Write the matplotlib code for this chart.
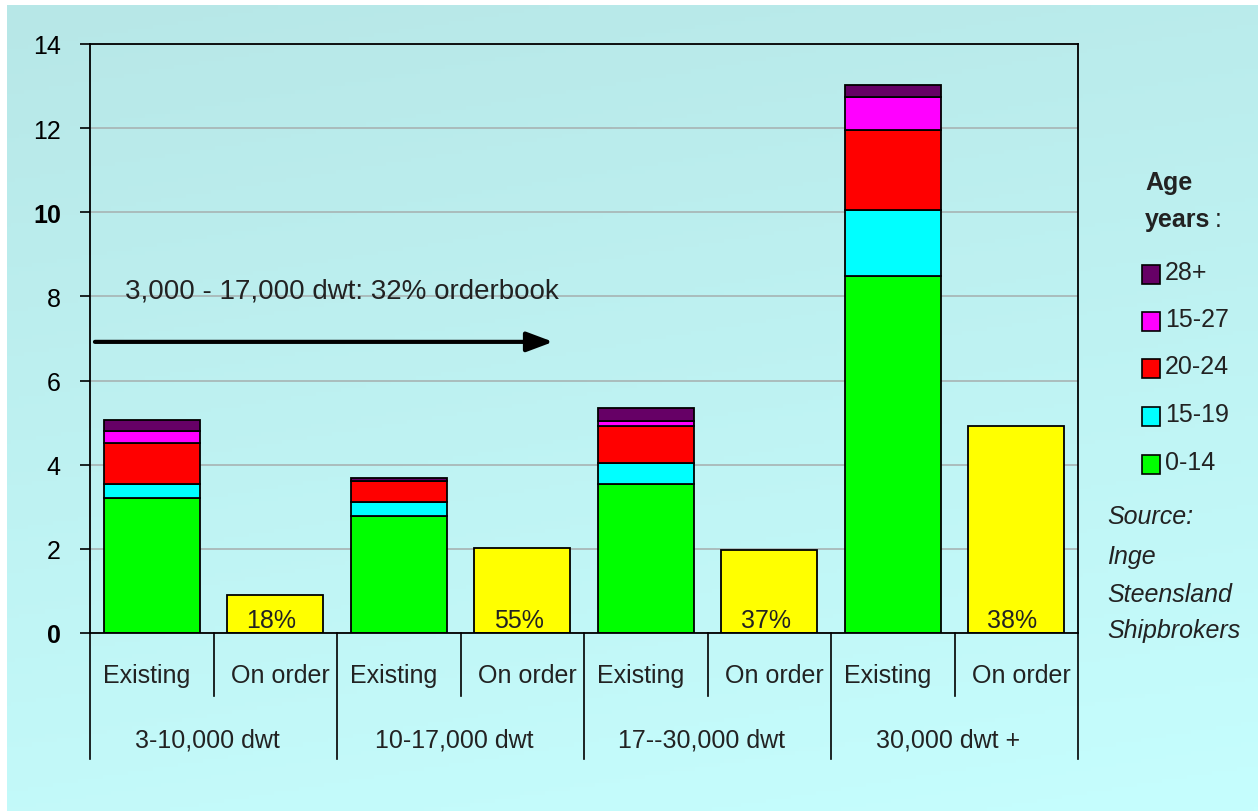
import numpy as np
import matplotlib
matplotlib.use("Agg")
import matplotlib.pyplot as plt
from matplotlib.patches import Rectangle
from matplotlib.transforms import blended_transform_factory

plt.rcParams['font.family'] = ['Liberation Sans', 'DejaVu Sans']

# fleet in million dwt, per size group: existing (by age) and on order
groups = ["3-10,000 dwt", "10-17,000 dwt", "17--30,000 dwt", "30,000 dwt +"]
sub_labels = ["Existing", "On order"]
age_labels = ["0-14", "15-19", "20-24", "15-27", "28+"]
age_colors = ["#00ff00", "#00ffff", "#ff0000", "#ff00ff", "#660066"]

age_0_14 = [3.20, 2.79, 3.53, 8.48]
age_15_19 = [0.33, 0.33, 0.51, 1.57]
age_20_24 = [0.98, 0.50, 0.87, 1.90]
age_25_27 = [0.28, 0.00, 0.14, 0.78]
age_28_plus = [0.28, 0.06, 0.30, 0.30]

on_order = [0.90, 2.02, 1.97, 4.92]
order_pct = ["18%", "55%", "37%", "38%"]

FS = 18

W, H = 1258, 812
fig = plt.figure(figsize=(W / 100, H / 100), dpi=100)
fig.patch.set_facecolor("white")

# background gradient
bg = fig.add_axes([7 / W, 0, 1 - 7 / W, 1 - 6 / H])
yy, xx = np.mgrid[0:1:200j, 0:1:300j]
t = np.clip(0.8 * yy + 0.2 * xx, 0, 1)
c_top = np.array([183, 231, 231]) / 255
c_bot = np.array([198, 254, 254]) / 255
img = c_top[None, None, :] * (1 - t[..., None]) + c_bot[None, None, :] * t[..., None]
bg.imshow(img, aspect="auto", extent=[0, 1, 0, 1], origin="upper")
bg.set_axis_off()

ax = fig.add_axes([90 / W, 178 / H, 988 / W, 589 / H])
ax.set_facecolor("none")

x_exist = np.arange(len(groups)) * 2
x_order = x_exist + 1
bw = 0.78

stack = [age_0_14, age_15_19, age_20_24, age_25_27, age_28_plus]
bottom = np.zeros(len(groups))
for vals, col, lab in zip(stack, age_colors, age_labels):
    ax.bar(x_exist, vals, bw, bottom=bottom, color=col, edgecolor="black",
           linewidth=1.3, label=lab, zorder=3)
    bottom += np.array(vals)

ax.bar(x_order, on_order, bw, color="#ffff00", edgecolor="black",
       linewidth=1.3, zorder=3)
for xo, p in zip(x_order, order_pct):
    ax.text(xo - 0.03, 0.32, p, ha="center", va="center", fontsize=FS,
            color="#222222", zorder=4)

ax.set_xlim(-0.5, 7.5)
ax.set_ylim(0, 14)
ax.set_yticks(np.arange(0, 15, 2))
ax.set_yticklabels([str(v) for v in range(0, 15, 2)], fontsize=FS)
for lbl in ax.get_yticklabels():
    if lbl.get_text() in ("0", "10"):
        lbl.set_fontweight("bold")
ax.tick_params(axis="y", direction="out", length=7, width=1.2, pad=14)
ax.set_xticks([])
ax.grid(axis="y", color="#a9b8b8", linewidth=1.3, zorder=0)
for s in ax.spines.values():
    s.set_linewidth(1.3)
    s.set_zorder(5)

# two-level category axis
tr = blended_transform_factory(ax.transData, ax.transAxes)
for xb in [0.5, 2.5, 4.5, 6.5]:
    ax.plot([xb, xb], [0, -0.107], color="black", lw=1.2, transform=tr, clip_on=False)
for xb in [-0.5, 1.5, 3.5, 5.5, 7.5]:
    ax.plot([xb, xb], [0, -0.214], color="black", lw=1.2, transform=tr, clip_on=False)
for xe, xo, g in zip(x_exist, x_order, groups):
    ax.text(xe - 0.04, -0.071, sub_labels[0], ha="center", va="center", fontsize=FS,
            color="#222222", transform=tr)
    ax.text(xo + 0.04, -0.071, sub_labels[1], ha="center", va="center", fontsize=FS,
            color="#222222", transform=tr)
    ax.text((xe + xo) / 2 - 0.05, -0.18, g, ha="center", va="center", fontsize=FS,
            color="#222222", transform=tr)

# orderbook arrow
ax.annotate("", xy=(3.25, 6.92), xytext=(-0.46, 6.92),
            arrowprops=dict(arrowstyle="-|>,head_length=1.6,head_width=0.6",
                            lw=3, color="black", shrinkA=0, shrinkB=0),
            zorder=4)
ax.text(-0.22, 8.14, "3,000 - 17,000 dwt: 32% orderbook", ha="left", va="center",
        fontsize=20, color="#222222", zorder=4)

# legend
def fx(px):
    return px / W

def fy(py):
    return 1 - py / H

fig.text(fx(1145), fy(183), "Age", fontsize=FS, fontweight="bold", va="center", color="#222222")
fig.text(fx(1145), fy(220), "years", fontsize=FS, fontweight="bold", va="center", color="#222222")
fig.text(fx(1215), fy(220), ":", fontsize=FS, va="center", color="#222222")
entry_y = [465, 417, 369, 322, 275]
for lab, col, py in zip(age_labels, age_colors, entry_y):
    fig.patches.append(Rectangle((fx(1142), fy(py + 10)), 18 / W, 19 / H,
                                 transform=fig.transFigure, facecolor=col,
                                 edgecolor="black", linewidth=1.2))
    fig.text(fx(1165), fy(py - 2), lab, fontsize=FS, va="center", color="#222222")

for txt, py in zip(["Source:", "Inge", "Steensland", "Shipbrokers"], [517, 557, 595, 631]):
    fig.text(fx(1107), fy(py), txt, fontsize=FS, style="italic", va="center", color="#222222")

fig.savefig("out.png", dpi=100)
